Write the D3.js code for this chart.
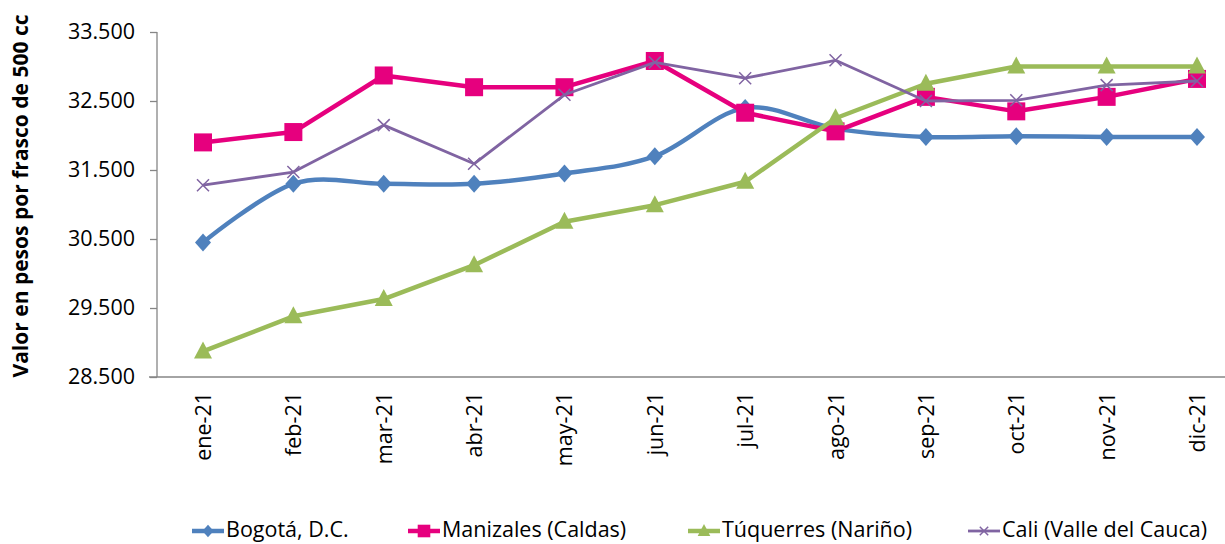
<!DOCTYPE html>
<html>
<head>
<meta charset="utf-8">
<script src="https://cdn.jsdelivr.net/npm/d3@7"></script>
<style>
  body { margin: 0; background: #fff; }
  svg text { font-family: "Open Sans", "Noto Sans", sans-serif; fill: #000; }
</style>
</head>
<body>
<div id="chart"></div>
<script>
const months = ["ene-21", "feb-21", "mar-21", "abr-21", "may-21", "jun-21",
                "jul-21", "ago-21", "sep-21", "oct-21", "nov-21", "dic-21"];
const yTicks = [28500, 29500, 30500, 31500, 32500, 33500];

const bogota    = [30450, 31300, 31300, 31300, 31450, 31700, 32400, 32100, 31980, 31990, 31980, 31980];
const manizales = [31900, 32050, 32870, 32700, 32700, 33080, 32330, 32060, 32560, 32350, 32560, 32820];
const tuquerres = [28870, 29380, 29630, 30120, 30750, 30990, 31330, 32250, 32750, 33000, 33000, 33000];
const cali      = [31280, 31470, 32150, 31590, 32590, 33060, 32830, 33090, 32500, 32510, 32730, 32790];

const series = [
  { name: "Bogotá, D.C.", values: bogota, color: "#4F81BD", width: 4.5, marker: "diamond", smooth: true, lx: 192 },
  { name: "Manizales (Caldas)", values: manizales, color: "#E6007E", width: 4.5, marker: "square", smooth: false, lx: 408 },
  { name: "Túquerres (Nariño)", values: tuquerres, color: "#9BBB59", width: 4.5, marker: "triangle", smooth: false, lx: 688 },
  { name: "Cali (Valle del Cauca)", values: cali, color: "#8064A2", width: 2.8, marker: "cross", smooth: false, lx: 968 }
];

const W = 1225, H = 544;
const FS = 21.5;
const svg = d3.select("#chart").append("svg").attr("width", W).attr("height", H);

const x = d3.scalePoint().domain(months).range([203, 1197]);
const y = d3.scaleLinear().domain([28500, 33500]).range([377, 32]);

// y axis
const yAxis = svg.append("g").attr("transform", "translate(157,0)")
  .call(d3.axisLeft(y).tickValues(yTicks).tickSize(7).tickPadding(15)
    .tickFormat(d => d3.format(",")(d).replace(/,/g, ".")));
yAxis.select(".domain").attr("stroke", "#868686").attr("stroke-width", 1.3).attr("d", "M0,32V377");
yAxis.selectAll(".tick line").attr("stroke", "#868686").attr("stroke-width", 1.3);
yAxis.selectAll(".tick text").attr("font-size", FS).attr("font-family", "'Open Sans', sans-serif").attr("fill", "#000");

// x axis
svg.append("line").attr("x1", 149).attr("x2", W).attr("y1", 377).attr("y2", 377)
  .attr("stroke", "#868686").attr("stroke-width", 1.3);
svg.append("g").selectAll("text").data(months).join("text")
  .attr("transform", d => `translate(${x(d) + 8},392) rotate(-90)`)
  .attr("text-anchor", "end")
  .attr("font-size", FS)
  .text(d => d);

// y title
svg.append("text")
  .attr("transform", "translate(28,196) rotate(-90)")
  .attr("text-anchor", "middle")
  .attr("font-size", 21).attr("font-weight", "bold")
  .text("Valor en pesos por frasco de 500 cc");

function drawMarker(g, type, color, cx, cy, scale) {
  const s = scale || 1;
  if (type === "diamond") {
    g.append("path").attr("d", `M${cx},${cy - 9 * s}L${cx + 8 * s},${cy}L${cx},${cy + 9 * s}L${cx - 8 * s},${cy}Z`).attr("fill", color);
  } else if (type === "square") {
    g.append("rect").attr("x", cx - 9 * s).attr("y", cy - 9 * s).attr("width", 18 * s).attr("height", 18 * s).attr("fill", color);
  } else if (type === "triangle") {
    g.append("path").attr("d", `M${cx},${cy - 10 * s}L${cx + 9 * s},${cy + 7 * s}L${cx - 9 * s},${cy + 7 * s}Z`).attr("fill", color);
  } else {
    g.append("path").attr("d", `M${cx - 6 * s},${cy - 6 * s}L${cx + 6 * s},${cy + 6 * s}M${cx - 6 * s},${cy + 6 * s}L${cx + 6 * s},${cy - 6 * s}`)
      .attr("stroke", color).attr("stroke-width", 1.5).attr("fill", "none");
  }
}

const plot = svg.append("g");
series.forEach(s => {
  const line = d3.line()
    .x((d, i) => x(months[i]))
    .y(d => y(d))
    .curve(s.smooth ? d3.curveCardinal.tension(0) : d3.curveLinear);
  const g = plot.append("g");
  g.append("path").datum(s.values).attr("d", line)
    .attr("fill", "none").attr("stroke", s.color).attr("stroke-width", s.width)
    .attr("stroke-linejoin", "round");
  s.values.forEach((v, i) => drawMarker(g, s.marker, s.color, x(months[i]), y(v)));
});

// legend
const legend = svg.append("g");
series.forEach(s => {
  const g = legend.append("g");
  g.append("line").attr("x1", s.lx).attr("x2", s.lx + 32).attr("y1", 531).attr("y2", 531)
    .attr("stroke", s.color).attr("stroke-width", s.width);
  drawMarker(g, s.marker, s.color, s.lx + 16, 531, 0.7);
  g.append("text").attr("x", s.lx + 34).attr("y", 537).attr("font-size", FS).text(s.name);
});
</script>
</body>
</html>
